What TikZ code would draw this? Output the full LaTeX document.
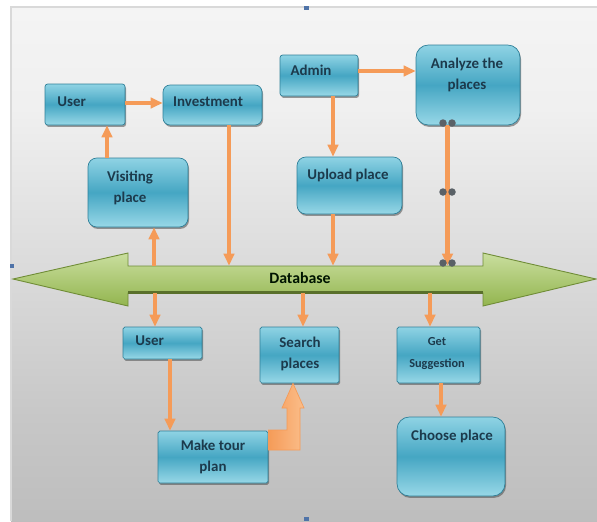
\documentclass[tikz,border=0pt]{standalone}
\usepackage{fontspec}
\setmainfont{Carlito}
\usetikzlibrary{arrows.meta,shadows,calc}
\definecolor{ora}{HTML}{F59B58}
\definecolor{oralt}{HTML}{FBBE8A}
\definecolor{txtc}{HTML}{1C3A4C}
\definecolor{boxtop}{HTML}{8FD3E4}
\definecolor{boxmid}{HTML}{45A6C3}
\definecolor{boxbot}{HTML}{98D8E7}
\definecolor{boxedge}{HTML}{2F8099}
\definecolor{grtop}{HTML}{C9DE9E}
\definecolor{grbot}{HTML}{93B54F}
\definecolor{gredge}{HTML}{6F8C36}
\definecolor{dotc}{HTML}{5A6167}
\definecolor{handle}{HTML}{4F73A8}
\pgfdeclareverticalshading{bgshade}{100bp}{color(0bp)=(black!35); color(35bp)=(black!22); color(65bp)=(black!6); color(100bp)=(white)}
\begin{document}
\begin{tikzpicture}[x=0.02cm,y=-0.02cm,
  sz/.style 2 args={minimum width=#1*0.02cm, minimum height=#2*0.02cm},
  box/.style={draw=boxedge, line width=0.4pt, top color=boxtop, bottom color=boxbot, middle color=boxmid,
    drop shadow={shadow xshift=0.6pt, shadow yshift=-1.1pt, opacity=0.55, fill=black!70}, inner sep=0pt},
  txt/.style={text=txtc, font=\fontsize{8.5}{12}\selectfont\bfseries, align=center, inner sep=0pt},
  arr/.style={draw=ora, line width=0.09cm, -{Triangle[length=0.24cm,width=0.21cm]}},
  dot/.style={circle, fill=dotc, inner sep=0pt, minimum size=0.15cm},
  hnd/.style={fill=handle, inner sep=0pt, minimum width=0.1cm, minimum height=0.08cm}]
\useasboundingbox (0,0) rectangle (597,521);
% background
\fill[white] (0,0) rectangle (597,521);
\shade[shading=bgshade] (11,7) rectangle (597,521);
\draw[black!15, line width=0.6pt] (11,521) -- (11,7) -- (597,7);

% boxes
\node[box, sz={80}{41}, rounded corners=1.5pt] (userA) at (85,104.5) {};
\node[box, sz={99}{40}, rounded corners=4pt] (invest) at (212.5,105) {};
\node[box, sz={100}{69}, rounded corners=5pt] (visit) at (138,192.5) {};
\node[box, sz={78}{41}, rounded corners=1.5pt] (admin) at (319,75.5) {};
\node[box, sz={104}{80}, rounded corners=7pt] (analyze) at (468,85) {};
\node[box, sz={105}{57}, rounded corners=5pt] (upload) at (349.5,185.5) {};
\node[box, sz={79}{32}, rounded corners=1pt] (userB) at (162.5,343) {};
\node[box, sz={79}{56}, rounded corners=1pt] (search) at (299.5,355) {};
\node[box, sz={110}{52}, rounded corners=1pt] (tour) at (213,457) {};
\node[box, sz={83}{56}, rounded corners=1pt] (suggest) at (438.5,355) {};
\node[box, sz={108}{79}, rounded corners=7pt] (choose) at (451,456.5) {};

% texts
\node[txt, anchor=west] (userA-t) at (57,102) {User};
\node[txt] (invest-t) at (208,102) {Investment};
\node[txt] (visit-t) at (130,188) {Visiting\\place};
\node[txt] (admin-t) at (311,70) {Admin};
\node[txt] (analyze-t) at (467,75) {Analyze the\\places};
\node[txt] (upload-t) at (348,175) {Upload place};
\node[txt, anchor=west] (userB-t) at (135,341) {User};
\node[txt] (search-t) at (300,353.5) {Search\\places};
\node[txt] (tour-t) at (213,457) {Make tour\\plan};
\node[txt, font=\fontsize{7}{12}\selectfont\bfseries] (suggest-t) at (437,353.5) {Get\\Suggestion};
\node[txt] (choose-t) at (452,436) {Choose place};

% database double arrow
\node[sz={355}{27}, inner sep=0pt] (db) at (305.5,279.5) {};
\draw[gredge, line width=0.5pt, top color=grtop, bottom color=grbot]
  (13,279) -- (128,253) -- (128,266) -- (483,266) -- (483,253) -- (596,279)
  -- (483,306) -- (483,293) -- (128,293) -- (128,306) -- cycle;
\draw[gredge!80!black, line width=1.2pt] (128,292.5) -- (483,292.5);
\node[txt, text=black!80!green!40!black, font=\fontsize{9}{11}\selectfont\bfseries] (db-t) at (300,278) {Database};

% connectors
\draw[arr] (userA.east |- 0,103) -- (invest.west |- 0,103);
\draw[arr] (visit.north -| 107,0) -- (userA.south -| 107,0);
\draw[arr] (invest.south -| 229,0) -- (db.north -| 229,0);
\draw[arr] (db.north -| 154,0) -- (visit.south -| 154,0);
\draw[arr] (admin.east |- 0,71) -- (analyze.west |- 0,71);
\draw[arr] (admin.south -| 333,0) -- (upload.north -| 333,0);
\draw[arr] (upload.south -| 333,0) -- (db.north -| 333,0);
\draw[arr] (analyze.south -| 447.5,0) -- (db.north -| 447.5,0);
\draw[arr] (db.south -| 155,0) -- (userB.north -| 155,0);
\draw[arr] (db.south -| 303,0) -- (search.north -| 303,0);
\draw[arr] (db.south -| 430,0) -- (suggest.north -| 430,0);
\draw[arr] (suggest.south -| 441,0) -- (choose.north -| 441,0);
\draw[arr] (userB.south -| 170,0) -- (tour.north -| 170,0);

% elbow block arrow tour -> search
\draw[ora, line width=0.4pt, left color=ora, right color=oralt]
  (tour.east |- 0,430) -- (287,430) -- (287,408) -- (282,408) -- (search.south -| 293,0)
  -- (304,408) -- (300,408) -- (300,450) -- (tour.east |- 0,450) -- cycle;

% connector handles
\node[dot] (d1) at (443,123) {};
\node[dot] (d2) at (452,123) {};
\node[dot] (d3) at (443,192) {};
\node[dot] (d4) at (452,192) {};
\node[dot] (d5) at (443,263) {};
\node[dot] (d6) at (452,263) {};

% selection handles
\node[hnd] (h1) at (306,8) {};
\node[hnd] (h2) at (12,266) {};
\node[hnd] (h3) at (306,519) {};
\end{tikzpicture}
\end{document}
